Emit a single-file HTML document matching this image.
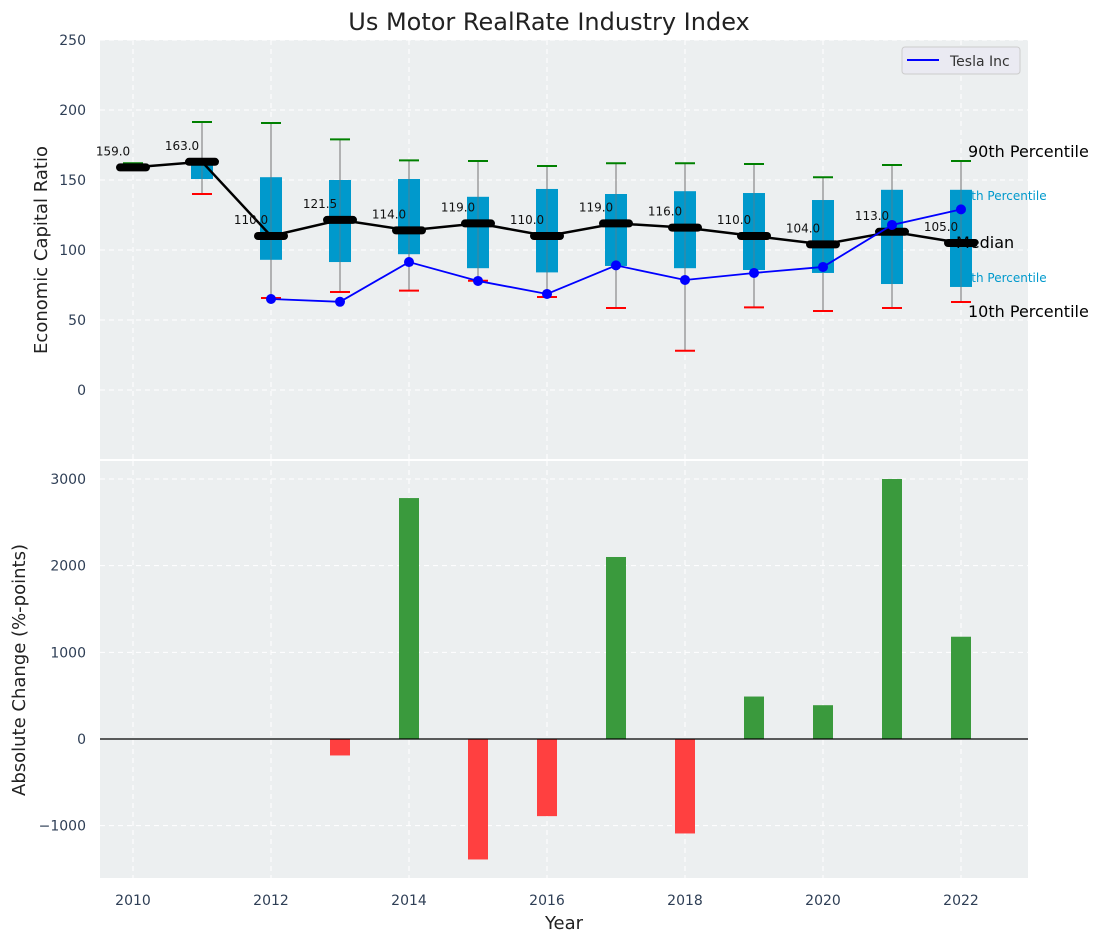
<!DOCTYPE html>
<html><head><meta charset="utf-8"><style>
body{margin:0;background:#fff;}
svg{display:block;font-family:"DejaVu Sans","Liberation Sans",sans-serif;}
</style></head><body>
<svg id="c" width="1103" height="942" viewBox="0 0 1103 942" xmlns="http://www.w3.org/2000/svg"></svg>
<script>
const years=[2010,2011,2012,2013,2014,2015,2016,2017,2018,2019,2020,2021,2022];
const p10=[159,140,65.7,70,71,78,66.4,58.6,28,59,56.4,58.6,62.9];
const q1=[159,150.7,93,91.4,97,87,84,88.6,87,85.7,83.6,75.7,73.6];
const q3=[159,165,152,150,150.7,138,143.6,140,142,140.7,135.7,143,143];
const p90=[162,191.4,190.7,179,164,163.6,160,162,162,161.4,152,160.7,163.6];
const medians=[159,163,110,121.5,114,119,110,119,116,110,104,113,105];
const tesla=[null,null,65,63,91.4,77.9,68.6,89,78.6,83.6,87.9,117.9,129];
const changes=[null,null,null,-190,2780,-1390,-890,2100,-1090,490,390,3000,1180];
const topTicks=[0,50,100,150,200,250];
const botTicks=[-1000,0,1000,2000,3000];
const xTicks=[2010,2012,2014,2016,2018,2020,2022];

const NS="http://www.w3.org/2000/svg";
const svg=document.getElementById('c');
function el(tag,attrs,parent,text){const e=document.createElementNS(NS,tag);for(const k in attrs)e.setAttribute(k,attrs[k]);if(text!==undefined)e.textContent=text;(parent||svg).appendChild(e);return e;}
const L=100,R=1028;
const X=v=>133+(v-2010)*69;
const Y1=v=>390-v*1.4;
const Y2=v=>739-v*0.08667;

let e;
e=el('rect',{x:L,y:40,width:R-L,height:419,fill:'#eceff0'});

e=el('rect',{x:L,y:461,width:R-L,height:417,fill:'#eceff0'});


xTicks.forEach(t=>{
 el('line',{x1:X(t),x2:X(t),y1:40,y2:459,stroke:'#fff','stroke-dasharray':'5,4','stroke-width':1});
 el('line',{x1:X(t),x2:X(t),y1:461,y2:878,stroke:'#fff','stroke-dasharray':'5,4','stroke-width':1});
 e=el('text',{x:X(t),y:905,'text-anchor':'middle','font-size':14,fill:'#2e3e55'},null,String(t));
 
});
topTicks.forEach(t=>{
 el('line',{x1:L,x2:R,y1:Y1(t),y2:Y1(t),stroke:'#fff','stroke-dasharray':'5,4'});
 e=el('text',{x:86,y:Y1(t)+5,'text-anchor':'end','font-size':14,fill:'#2e3e55'},null,String(t));
 
});
botTicks.forEach(t=>{
 el('line',{x1:L,x2:R,y1:Y2(t),y2:Y2(t),stroke:'#fff','stroke-dasharray':'5,4'});
 e=el('text',{x:86,y:Y2(t)+5,'text-anchor':'end','font-size':14,fill:'#2e3e55'},null,t<0?'\u2212'+(-t):String(t));
 
});

// percentile labels (behind boxes)
e=el('text',{x:X(2022)-5,y:Y1(q3[12])+10,'font-size':12,fill:'#0099cc'},null,'75th Percentile');

e=el('text',{x:X(2022)-5,y:Y1(q1[12])-5,'font-size':12,fill:'#0099cc'},null,'25th Percentile');


years.forEach((y,i)=>{
 const x=X(y);
 e=el('line',{x1:x,x2:x,y1:Y1(p90[i]),y2:Y1(p10[i]),stroke:'#888','stroke-width':1.2});
 
 if(q3[i]>q1[i]){
  e=el('rect',{x:x-11,y:Y1(q3[i]),width:22,height:Y1(q1[i])-Y1(q3[i]),fill:'#0099cc'});
  
  el('line',{x1:x,x2:x,y1:Y1(q3[i]),y2:Y1(q1[i]),stroke:'#777','stroke-width':1,'stroke-opacity':0.6});
 }
 e=el('line',{x1:x-10,x2:x+10,y1:Y1(p90[i]),y2:Y1(p90[i]),stroke:'green','stroke-width':2});
 
 e=el('line',{x1:x-10,x2:x+10,y1:Y1(p10[i]),y2:Y1(p10[i]),stroke:'red','stroke-width':2});
 
});

e=el('polyline',{points:years.map((y,i)=>X(y)+','+Y1(medians[i])).join(' '),fill:'none',stroke:'#000','stroke-width':2.5});

years.forEach((y,i)=>{
 e=el('line',{x1:X(y)-13,x2:X(y)+13,y1:Y1(medians[i]),y2:Y1(medians[i]),stroke:'#000','stroke-width':8,'stroke-linecap':'round'});
 
 e=el('text',{x:X(y)-20,y:Y1(medians[i])-12,'text-anchor':'middle','font-size':12,fill:'#111'},null,medians[i].toFixed(1));
 
});

const tp=years.map((y,i)=>tesla[i]==null?null:[X(y),Y1(tesla[i])]).filter(p=>p);
e=el('polyline',{points:tp.map(p=>p.join(',')).join(' '),fill:'none',stroke:'blue','stroke-width':1.8});

tp.forEach(p=>{e=el('circle',{cx:p[0],cy:p[1],r:5,fill:'blue'});
 });

e=el('text',{x:X(2022)+7,y:Y1(p90[12])-4,'font-size':16,fill:'#000'},null,'90th Percentile');

e=el('text',{x:X(2022)-5,y:Y1(medians[12])+5,'font-size':16,fill:'#000'},null,'Median');

e=el('text',{x:X(2022)+7,y:Y1(p10[12])+15,'font-size':16,fill:'#000'},null,'10th Percentile');


const lg=el('g',{});

el('rect',{x:902,y:47,width:118,height:27,rx:3,fill:'#eaeaf2',stroke:'#ccc'},lg);
el('line',{x1:907,x2:939,y1:60,y2:60,stroke:'blue','stroke-width':2},lg);
e=el('text',{x:950,y:66,'font-size':14,fill:'#333'},lg,'Tesla Inc');


years.forEach((y,i)=>{
 const v=changes[i]; if(v==null)return;
 const y0=Y2(0),yv=Y2(v);
 e=el('rect',{x:X(y)-10,y:Math.min(y0,yv),width:20,height:Math.abs(yv-y0),fill:v>=0?'#3a9a3d':'#ff4040'});
 
});
e=el('line',{x1:L,x2:R,y1:Y2(0),y2:Y2(0),stroke:'#000','stroke-width':1.2});


e=el('text',{x:549,y:30,'text-anchor':'middle','font-size':24,fill:'#222'},null,'Us Motor RealRate Industry Index');

e=el('text',{x:0,y:0,'text-anchor':'middle','font-size':18,fill:'#222',transform:'translate(47,250) rotate(-90)'},null,'Economic Capital Ratio');

e=el('text',{x:0,y:0,'text-anchor':'middle','font-size':18,fill:'#222',transform:'translate(25,670) rotate(-90)'},null,'Absolute Change (%-points)');

e=el('text',{x:564,y:929,'text-anchor':'middle','font-size':18,fill:'#222'},null,'Year');

</script>
</body></html>
